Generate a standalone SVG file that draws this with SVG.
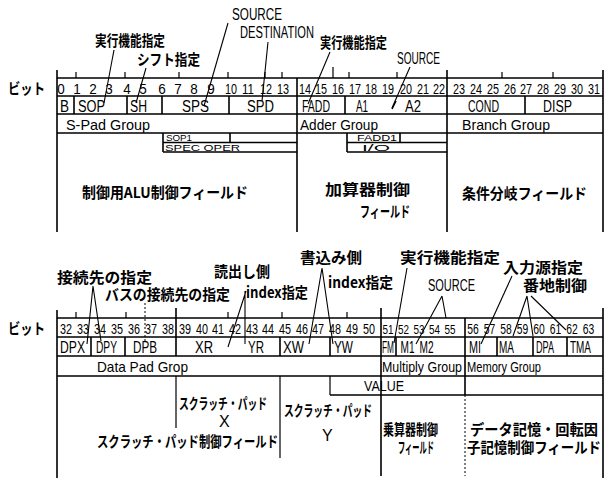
<svg xmlns="http://www.w3.org/2000/svg" width="610" height="480" viewBox="0 0 610 480">
<style>
.o{stroke:#000;stroke-width:1.6;fill:none}
.th{stroke:#000;stroke-width:1.2;fill:none}
.ld{stroke:#000;stroke-width:1.1;fill:none}
.dt{stroke:#000;stroke-width:1;fill:none;stroke-dasharray:2 2}
.bt{font-family:"Liberation Sans",sans-serif;font-size:14px;text-anchor:middle;fill:#000}
.bs{font-family:"Liberation Sans",sans-serif;font-size:13px;text-anchor:middle;fill:#000}
.lt{font-family:"Liberation Sans",sans-serif;font-size:16px;fill:#000}
.gt{font-family:"Liberation Sans",sans-serif;font-size:15px;fill:#000}
.sm{font-family:"Liberation Sans",sans-serif;font-size:9px;fill:#000}
.jp{font-family:"Noto Sans CJK JP","Noto Sans CJK SC",sans-serif;font-size:15px;font-weight:bold;fill:#000}
</style>
<rect width="610" height="480" fill="#fff"/>

<!-- ================= TOP WORD ================= -->
<g id="top-frame">
  <path class="o" d="M57 78H603M57 96H603M57 114H603M57 133H603"/>
  <path class="o" d="M57 70V232M297 78V232M447 70V232M603 70V232"/>
  <path class="o" d="M74 96V114M127 96V114M162 96V114M229 96V114M345 96V114M525 96V114"/>
  <path class="th" d="M76 72V78M125 72V78M179 72V78M228 72V78M265 72V78M282 72V78M333 67V78M349 72V78M397 72V78M502 72V78M553 72V78"/>
</g>
<g id="top-bits">
  <text class="bt" x="61" y="94" textLength="7.5" lengthAdjust="spacingAndGlyphs">0</text>
  <text class="bt" x="77" y="94" textLength="7.5" lengthAdjust="spacingAndGlyphs">1</text>
  <text class="bt" x="93" y="94" textLength="7.5" lengthAdjust="spacingAndGlyphs">2</text>
  <text class="bt" x="109" y="94" textLength="7.5" lengthAdjust="spacingAndGlyphs">3</text>
  <text class="bt" x="127" y="94" textLength="7.5" lengthAdjust="spacingAndGlyphs">4</text>
  <text class="bt" x="143" y="94" textLength="7.5" lengthAdjust="spacingAndGlyphs">5</text>
  <text class="bt" x="162" y="94" textLength="7.5" lengthAdjust="spacingAndGlyphs">6</text>
  <text class="bt" x="178" y="94" textLength="7.5" lengthAdjust="spacingAndGlyphs">7</text>
  <text class="bt" x="194" y="94" textLength="7.5" lengthAdjust="spacingAndGlyphs">8</text>
  <text class="bt" x="211" y="94" textLength="7.5" lengthAdjust="spacingAndGlyphs">9</text>
  <text class="bt" x="231" y="94" textLength="12" lengthAdjust="spacingAndGlyphs">10</text>
  <text class="bt" x="248" y="94" textLength="12" lengthAdjust="spacingAndGlyphs">11</text>
  <text class="bt" x="266" y="94" textLength="12" lengthAdjust="spacingAndGlyphs">12</text>
  <text class="bt" x="283" y="94" textLength="12" lengthAdjust="spacingAndGlyphs">13</text>
  <text class="bt" x="305" y="94" textLength="12" lengthAdjust="spacingAndGlyphs">14</text>
  <text class="bt" x="321" y="94" textLength="12" lengthAdjust="spacingAndGlyphs">15</text>
  <text class="bt" x="338" y="94" textLength="12" lengthAdjust="spacingAndGlyphs">16</text>
  <text class="bt" x="355" y="94" textLength="12" lengthAdjust="spacingAndGlyphs">17</text>
  <text class="bt" x="371" y="94" textLength="12" lengthAdjust="spacingAndGlyphs">18</text>
  <text class="bt" x="388" y="94" textLength="12" lengthAdjust="spacingAndGlyphs">19</text>
  <text class="bt" x="406" y="94" textLength="12" lengthAdjust="spacingAndGlyphs">20</text>
  <text class="bt" x="423" y="94" textLength="12" lengthAdjust="spacingAndGlyphs">21</text>
  <text class="bt" x="439" y="94" textLength="12" lengthAdjust="spacingAndGlyphs">22</text>
  <text class="bt" x="459" y="94" textLength="12" lengthAdjust="spacingAndGlyphs">23</text>
  <text class="bt" x="476" y="94" textLength="12" lengthAdjust="spacingAndGlyphs">24</text>
  <text class="bt" x="493" y="94" textLength="12" lengthAdjust="spacingAndGlyphs">25</text>
  <text class="bt" x="510" y="94" textLength="12" lengthAdjust="spacingAndGlyphs">26</text>
  <text class="bt" x="526" y="94" textLength="12" lengthAdjust="spacingAndGlyphs">27</text>
  <text class="bt" x="543" y="94" textLength="12" lengthAdjust="spacingAndGlyphs">28</text>
  <text class="bt" x="560" y="94" textLength="12" lengthAdjust="spacingAndGlyphs">29</text>
  <text class="bt" x="577" y="94" textLength="12" lengthAdjust="spacingAndGlyphs">30</text>
  <text class="bt" x="594" y="94" textLength="12" lengthAdjust="spacingAndGlyphs">31</text>
</g>
<g id="top-fields">
  <text class="lt" x="60" y="112" textLength="9" lengthAdjust="spacingAndGlyphs">B</text>
  <text class="lt" x="78" y="112" textLength="27" lengthAdjust="spacingAndGlyphs">SOP</text>
  <text class="lt" x="130" y="112" textLength="17" lengthAdjust="spacingAndGlyphs">SH</text>
  <text class="lt" x="182" y="112" textLength="27" lengthAdjust="spacingAndGlyphs">SPS</text>
  <text class="lt" x="247" y="112" textLength="27" lengthAdjust="spacingAndGlyphs">SPD</text>
  <text class="lt" x="302" y="112" textLength="28" lengthAdjust="spacingAndGlyphs">FADD</text>
  <text class="lt" x="356" y="112" textLength="12" lengthAdjust="spacingAndGlyphs">A1</text>
  <text class="lt" x="405" y="112" textLength="16" lengthAdjust="spacingAndGlyphs">A2</text>
  <text class="lt" x="468" y="112" textLength="31" lengthAdjust="spacingAndGlyphs">COND</text>
  <text class="lt" x="543" y="112" textLength="29" lengthAdjust="spacingAndGlyphs">DISP</text>
</g>
<g id="top-groups">
  <text class="gt" x="66" y="130" textLength="84" lengthAdjust="spacingAndGlyphs">S-Pad Group</text>
  <text class="gt" x="300" y="130" textLength="78" lengthAdjust="spacingAndGlyphs">Adder Group</text>
  <text class="gt" x="462" y="130" textLength="88" lengthAdjust="spacingAndGlyphs">Branch Group</text>
</g>
<g id="spec-oper">
  <path class="o" d="M163 133V152M230 133V142.5M163 142.5H297M163 152H297"/>
  <text class="sm" x="166" y="141" textLength="26" lengthAdjust="spacingAndGlyphs">SOP1</text>
  <text class="sm" x="165" y="151.2" textLength="75" lengthAdjust="spacingAndGlyphs">SPEC OPER</text>
</g>
<g id="fadd1-io">
  <path class="o" d="M347 133V152M400 133V142.5M347 142.5H447M347 152H447"/>
  <text class="sm" x="357" y="141" textLength="40" lengthAdjust="spacingAndGlyphs">FADD1</text>
  <text class="sm" x="362" y="151.2" textLength="28" lengthAdjust="spacingAndGlyphs">I/O</text>
</g>
<g id="top-areas">
  <text class="jp" x="82" y="198" textLength="166" lengthAdjust="spacingAndGlyphs">制御用ALU制御フィールド</text>
  <text class="jp" x="325" y="195" font-size="17" textLength="85" lengthAdjust="spacingAndGlyphs">加算器制御</text>
  <text class="jp" x="360" y="217" font-size="13" textLength="50" lengthAdjust="spacingAndGlyphs">フィールド</text>
  <text class="jp" x="462" y="199" textLength="125" lengthAdjust="spacingAndGlyphs">条件分岐フィールド</text>
</g>
<g id="top-labels">
  <text class="lt" x="232" y="20" font-size="17" textLength="50" lengthAdjust="spacingAndGlyphs">SOURCE</text>
  <text class="lt" x="240" y="38" font-size="10.5" textLength="74" lengthAdjust="spacingAndGlyphs">DESTINATION</text>
  <text class="jp" x="95" y="46" font-size="14" textLength="70" lengthAdjust="spacingAndGlyphs">実行機能指定</text>
  <text class="jp" x="137" y="65" font-size="14" textLength="63" lengthAdjust="spacingAndGlyphs">シフト指定</text>
  <text class="jp" x="320" y="48" font-size="13" textLength="67" lengthAdjust="spacingAndGlyphs">実行機能指定</text>
  <text class="lt" x="397" y="64" font-size="14" textLength="43" lengthAdjust="spacingAndGlyphs">SOURCE</text>
  <text class="jp" x="8" y="94" textLength="37" lengthAdjust="spacingAndGlyphs">ビット</text>
</g>

<!-- ================= BOTTOM WORD ================= -->
<g id="bottom-frame">
  <path class="o" d="M57 318H603M57 337H603M57 356H603M57 376H603M330 395H603"/>
  <path class="o" d="M57 310V478M176 308V356M381 308V476M465 318V395M603 308V478"/>
  <path class="o" d="M91 337V356M125 337V356M280 337V356M330 337V356M396 337V356M497 337V356M533 337V356M567 337V356"/>
  <path class="th" d="M176 376V428M280 376V458M330 376V395"/>
  <path class="dt" d="M465 395V476"/>
  <path class="th" d="M76 312V318M126 312V318M228 312V318M282 312V318M347 312V318"/>
</g>
<g id="bottom-bits">
  <text class="bt" x="66" y="334" textLength="12" lengthAdjust="spacingAndGlyphs">32</text>
  <text class="bt" x="83" y="334" textLength="12" lengthAdjust="spacingAndGlyphs">33</text>
  <text class="bt" x="100" y="334" textLength="12" lengthAdjust="spacingAndGlyphs">34</text>
  <text class="bt" x="117" y="334" textLength="12" lengthAdjust="spacingAndGlyphs">35</text>
  <text class="bt" x="134" y="334" textLength="12" lengthAdjust="spacingAndGlyphs">36</text>
  <text class="bt" x="151" y="334" textLength="12" lengthAdjust="spacingAndGlyphs">37</text>
  <text class="bt" x="168" y="334" textLength="12" lengthAdjust="spacingAndGlyphs">38</text>
  <text class="bt" x="185" y="334" textLength="12" lengthAdjust="spacingAndGlyphs">39</text>
  <text class="bt" x="202" y="334" textLength="12" lengthAdjust="spacingAndGlyphs">40</text>
  <text class="bt" x="218" y="334" textLength="12" lengthAdjust="spacingAndGlyphs">41</text>
  <text class="bt" x="235" y="334" textLength="12" lengthAdjust="spacingAndGlyphs">42</text>
  <text class="bt" x="252" y="334" textLength="12" lengthAdjust="spacingAndGlyphs">43</text>
  <text class="bt" x="268" y="334" textLength="12" lengthAdjust="spacingAndGlyphs">44</text>
  <text class="bt" x="285" y="334" textLength="12" lengthAdjust="spacingAndGlyphs">45</text>
  <text class="bt" x="302" y="334" textLength="12" lengthAdjust="spacingAndGlyphs">46</text>
  <text class="bt" x="318" y="334" textLength="12" lengthAdjust="spacingAndGlyphs">47</text>
  <text class="bt" x="335" y="334" textLength="12" lengthAdjust="spacingAndGlyphs">48</text>
  <text class="bt" x="352" y="334" textLength="12" lengthAdjust="spacingAndGlyphs">49</text>
  <text class="bt" x="369" y="334" textLength="12" lengthAdjust="spacingAndGlyphs">50</text>
  <text class="bs" x="388" y="334" textLength="11" lengthAdjust="spacingAndGlyphs">51</text>
  <text class="bs" x="403.5" y="334" textLength="11" lengthAdjust="spacingAndGlyphs">52</text>
  <text class="bs" x="419" y="334" textLength="11" lengthAdjust="spacingAndGlyphs">53</text>
  <text class="bs" x="434.5" y="334" textLength="11" lengthAdjust="spacingAndGlyphs">54</text>
  <text class="bs" x="450" y="334" textLength="11" lengthAdjust="spacingAndGlyphs">55</text>
  <text class="bt" x="473" y="334" textLength="11.5" lengthAdjust="spacingAndGlyphs">56</text>
  <text class="bt" x="489.5" y="334" textLength="11.5" lengthAdjust="spacingAndGlyphs">57</text>
  <text class="bt" x="506" y="334" textLength="11.5" lengthAdjust="spacingAndGlyphs">58</text>
  <text class="bt" x="522.5" y="334" textLength="11.5" lengthAdjust="spacingAndGlyphs">59</text>
  <text class="bt" x="539" y="334" textLength="11.5" lengthAdjust="spacingAndGlyphs">60</text>
  <text class="bt" x="555.5" y="334" textLength="11.5" lengthAdjust="spacingAndGlyphs">61</text>
  <text class="bt" x="572" y="334" textLength="11.5" lengthAdjust="spacingAndGlyphs">62</text>
  <text class="bt" x="588.5" y="334" textLength="11.5" lengthAdjust="spacingAndGlyphs">63</text>
</g>
<g id="bottom-fields">
  <text class="lt" x="60" y="353" textLength="25" lengthAdjust="spacingAndGlyphs">DPX</text>
  <text class="lt" x="96" y="353" textLength="21" lengthAdjust="spacingAndGlyphs">DPY</text>
  <text class="lt" x="133" y="353" textLength="24" lengthAdjust="spacingAndGlyphs">DPB</text>
  <text class="lt" x="195" y="353" textLength="18" lengthAdjust="spacingAndGlyphs">XR</text>
  <text class="lt" x="248" y="353" textLength="16" lengthAdjust="spacingAndGlyphs">YR</text>
  <text class="lt" x="283" y="353" textLength="21" lengthAdjust="spacingAndGlyphs">XW</text>
  <text class="lt" x="334" y="353" textLength="19" lengthAdjust="spacingAndGlyphs">YW</text>
  <text class="lt" x="382" y="353" font-size="10.5" textLength="12" lengthAdjust="spacingAndGlyphs">FM</text>
  <text class="lt" x="400.5" y="353" font-size="10.5" textLength="14" lengthAdjust="spacingAndGlyphs">M1</text>
  <text class="lt" x="419.5" y="353" font-size="10.5" textLength="14" lengthAdjust="spacingAndGlyphs">M2</text>
  <text class="lt" x="469" y="353" textLength="12" lengthAdjust="spacingAndGlyphs">MI</text>
  <text class="lt" x="499" y="353" font-size="15" textLength="15" lengthAdjust="spacingAndGlyphs">MA</text>
  <text class="lt" x="536" y="353" font-size="15" textLength="18" lengthAdjust="spacingAndGlyphs">DPA</text>
  <text class="lt" x="570" y="353" font-size="15" textLength="21" lengthAdjust="spacingAndGlyphs">TMA</text>
</g>
<g id="bottom-groups">
  <text class="gt" x="97" y="372" textLength="91" lengthAdjust="spacingAndGlyphs">Data Pad Grop</text>
  <text class="gt" x="382" y="372" font-size="13" textLength="80" lengthAdjust="spacingAndGlyphs">Multiply Group</text>
  <text class="gt" x="467" y="372" font-size="13" textLength="74" lengthAdjust="spacingAndGlyphs">Memory Group</text>
  <text class="gt" x="364" y="391" textLength="40" lengthAdjust="spacingAndGlyphs">VALUE</text>
</g>
<g id="bottom-areas">
  <text class="jp" x="179" y="409" font-size="11" textLength="88" lengthAdjust="spacingAndGlyphs">スクラッチ・パッド</text>
  <text class="lt" x="219" y="427" font-size="17">X</text>
  <text class="jp" x="97" y="447" font-size="12" textLength="181" lengthAdjust="spacingAndGlyphs">スクラッチ・パッド制御フィールド</text>
  <text class="jp" x="284" y="416" font-size="11" textLength="88" lengthAdjust="spacingAndGlyphs">スクラッチ・パッド</text>
  <text class="lt" x="322" y="441" font-size="14">Y</text>
  <text class="jp" x="383" y="435" font-size="12" textLength="55" lengthAdjust="spacingAndGlyphs">乗算器制御</text>
  <text class="jp" x="398" y="453" font-size="10" textLength="36" lengthAdjust="spacingAndGlyphs">フィールド</text>
  <text class="jp" x="470" y="435" font-size="14" textLength="128" lengthAdjust="spacingAndGlyphs">データ記憶・回転因</text>
  <text class="jp" x="467" y="453" font-size="11.5" textLength="134" lengthAdjust="spacingAndGlyphs">子記憶制御フィールド</text>
</g>
<g id="bottom-labels">
  <text class="jp" x="57" y="283" font-size="16" textLength="95" lengthAdjust="spacingAndGlyphs">接続先の指定</text>
  <text class="jp" x="105" y="300" font-size="14" textLength="125" lengthAdjust="spacingAndGlyphs">バスの接続先の指定</text>
  <text class="jp" x="214" y="277" textLength="56" lengthAdjust="spacingAndGlyphs">読出し側</text>
  <text class="jp" x="246" y="298" font-size="14" textLength="62" lengthAdjust="spacingAndGlyphs">index指定</text>
  <text class="jp" x="300" y="263" font-size="16" textLength="62" lengthAdjust="spacingAndGlyphs">書込み側</text>
  <text class="jp" x="328" y="288" font-size="14" textLength="65" lengthAdjust="spacingAndGlyphs">index指定</text>
  <text class="jp" x="400" y="263" font-size="16" textLength="100" lengthAdjust="spacingAndGlyphs">実行機能指定</text>
  <text class="lt" x="428" y="291" font-size="14" textLength="47" lengthAdjust="spacingAndGlyphs">SOURCE</text>
  <text class="jp" x="503" y="273" font-size="16" textLength="80" lengthAdjust="spacingAndGlyphs">入力源指定</text>
  <text class="jp" x="523" y="291" font-size="16" textLength="64" lengthAdjust="spacingAndGlyphs">番地制御</text>
  <text class="jp" x="8" y="334" textLength="37" lengthAdjust="spacingAndGlyphs">ビット</text>
</g>

<!-- ================= CONNECTORS (leader lines) ================= -->
<g id="connectors">
  <path class="ld" d="M114 50L104 103"/>
  <path class="ld" d="M146 68L136 103"/>
  <path class="ld" d="M228 23L204 106"/>
  <path class="ld" d="M268 42L262 101"/>
  <path class="ld" d="M330 52L308 104"/>
  <path class="ld" d="M410 67L392 108"/>
  <path class="o" d="M396 101L392 109"/>
  <path class="ld" d="M93 286L87 344M93 286L101 341"/>
  <path class="dt" d="M145 303V341"/>
  <path class="ld" d="M246 291L228 347M245 291V344"/>
  <path class="ld" d="M322 268L309 344M322 268L333 344"/>
  <path class="ld" d="M407 268L394 343"/>
  <path class="ld" d="M442 296L416 344M442 296L446 318"/>
  <path class="ld" d="M512 276L481 344"/>
  <path class="ld" d="M527 296L513 336M527 296L533 336M531 296L566 330"/>
</g>
</svg>
